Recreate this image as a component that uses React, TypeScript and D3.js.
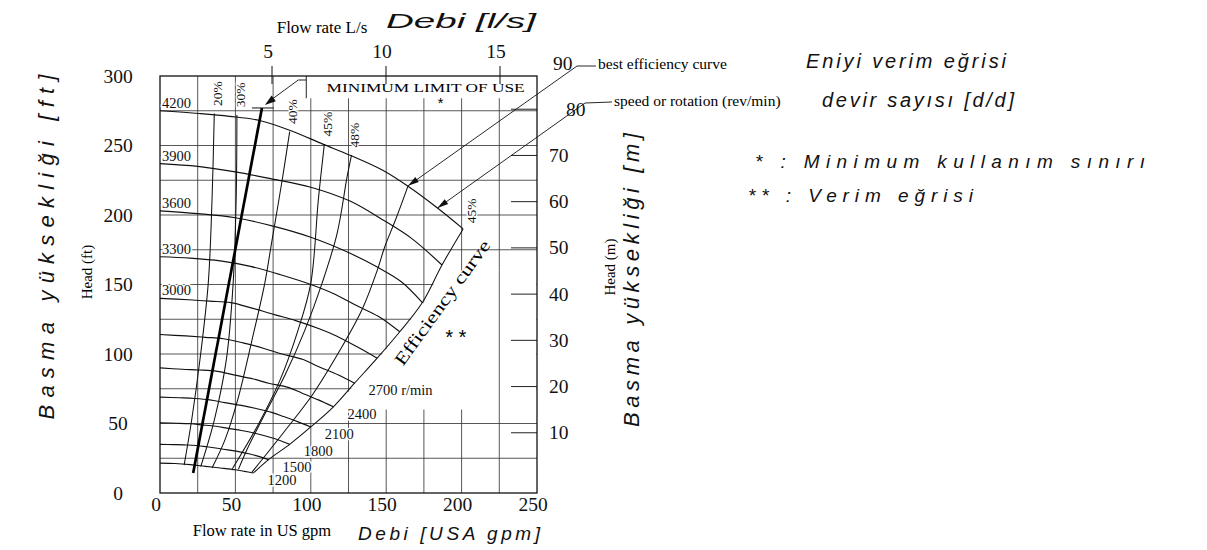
import React from 'react';
import * as d3 from 'd3';

const W = 1207;
const H = 550;

// Head–capacity curves, [flow US gpm, head ft], one per pump speed
const rpm4200 = [[0, 275], [26, 273], [46, 271], [66, 268], [86, 261], [108, 251], [126, 243], [148, 232], [164, 221], [184, 205], [201, 190]];
const rpm3900 = [[0, 237], [25, 235], [50, 231], [74, 226], [100, 220], [126, 210], [147, 197], [167, 183], [187, 164]];
const rpm3600 = [[0, 203], [25, 201], [50, 198], [75, 192], [100, 184], [125, 173], [145, 162], [160, 152], [174, 137]];
const rpm3300 = [[0, 170], [20, 169], [40, 167], [60, 163], [80, 157], [100, 150], [116, 143], [130, 135], [145, 127], [159, 116]];
const rpm3000 = [[0, 140], [19, 139], [33, 138], [47, 137], [61, 133], [77, 128], [90, 124], [106, 118], [117, 113], [131, 105], [144, 97]];
const rpm2700 = [[0, 114], [17, 113], [30, 112], [42, 111], [55, 108], [69, 104], [81, 100], [95, 96], [105, 91], [118, 85], [129, 79]];
const rpm2400 = [[0, 90], [15, 89], [26, 88.5], [38, 87.5], [49, 85], [62, 82], [72, 79], [85, 76], [94, 72], [105, 67], [115, 62]];
const rpm2100 = [[0, 69], [13, 68.5], [23, 68], [33, 67], [43, 65], [54, 63], [63, 61], [74, 58], [82, 55], [92, 51], [100, 47.5]];
const rpm1800 = [[0, 50.5], [11, 50.2], [20, 49.8], [28, 49], [37, 48], [46, 46.3], [54, 45], [63, 43], [70, 41], [79, 38], [86, 35]];
const rpm1500 = [[0, 35], [9, 34.8], [16, 34.6], [24, 34.2], [31, 33.3], [39, 32], [45, 31], [53, 29.6], [59, 28.2], [66, 26.2], [72, 24]];
const rpm1200 = [[0, 21.5], [10, 21.2], [20, 20.4], [30, 19.2], [40, 18], [50, 16.7], [56, 15.6], [62, 14.4]];

const leftSpeedCurves = [rpm4200, rpm3900, rpm3600, rpm3300, rpm3000];
const leftSpeedLabels = ['4200', '3900', '3600', '3300', '3000'];
const rightSpeedCurves = [rpm2700, rpm2400, rpm2100, rpm1800, rpm1500, rpm1200];
const rightSpeedLabels = ['2700 r/min', '2400', '2100', '1800', '1500', '1200'];

// Iso-efficiency lines, [gpm, ft], from the 4200 r/min curve downwards
const eff20 = [[36, 273], [34.5, 211], [32, 151], [26.5, 96], [21, 52.5], [16, 20]];
const eff30 = [[51, 272], [50.5, 211], [48.5, 151], [44, 96], [36, 52.5], [27, 19]];
const eff40 = [[86, 260], [81, 225], [74, 180], [69.5, 151], [61, 110], [51.5, 67], [43, 38], [34.5, 18]];
const eff45 = [[109, 251], [105, 211], [100, 151], [91.5, 117], [79.5, 81], [65, 49], [48, 17.5]];
const eff48 = [[127, 243], [124, 227], [117.5, 187], [107.5, 151], [96, 117], [83, 85], [67.5, 52.5], [58, 32], [52, 17]];
const effLines = [eff20, eff30, eff40, eff45, eff48];
const effLabels = ['20%', '30%', '40%', '45%', '48%'];

// Best efficiency curve and the efficiency (end-of-curve) boundary
const bestEff = [[164.5, 221], [156, 196], [149, 177], [144, 160], [134, 132], [119.5, 103], [101, 70.5], [83, 45], [61, 15]];
const effBoundary = [[201, 190], [187, 164], [174, 137], [159, 116], [144, 97], [129, 79], [115, 62], [100, 47.5], [86, 35], [72, 24], [62, 14.4]];
const boundaryLabel = '45%';

// Minimum limit of use
const minLimit = [[67.6, 277], [22, 14.4]];

// Axis ticks
const gpmTicks = [0, 50, 100, 150, 200, 250];
const ftTicks = [0, 50, 100, 150, 200, 250, 300];
const mTicks = [10, 20, 30, 40, 50, 60, 70, 80, 90];
const lpsTicks = [5, 10, 15];

const x = d3.scaleLinear().domain([0, 250]).range([160, 537]);
const yFt = d3.scaleLinear().domain([0, 300]).range([493, 76]);
const yM = d3.scaleLinear().domain([0, 90]).range([479, 63]);
const xLps = d3.scaleLinear().domain([0, 15]).range([158, 500]);

const serif = "'Liberation Serif', 'Times New Roman', serif";
const hand = "'Liberation Sans', 'DejaVu Sans', sans-serif";

const halo = { paintOrder: 'stroke' as const };

function arrowHead(tx: number, ty: number, fx: number, fy: number, len = 9, half = 2.6) {
  const a = Math.atan2(ty - fy, tx - fx);
  const bx = tx - len * Math.cos(a);
  const by = ty - len * Math.sin(a);
  const px = -Math.sin(a) * half;
  const py = Math.cos(a) * half;
  return `${tx},${ty} ${bx + px},${by + py} ${bx - px},${by - py}`;
}

export default function App() {
  const smooth = d3.line<number[]>().x(d => x(d[0])).y(d => yFt(d[1])).curve(d3.curveCatmullRom.alpha(0.5));
  const straight = d3.line<number[]>().x(d => x(d[0])).y(d => yFt(d[1]));

  const gridGpm = d3.range(25, 250, 25);
  const gridFt = d3.range(25, 300, 25);

  // flow on the boundary for a given head (polylinear lookup)
  const bAsc = [...effBoundary].reverse();
  const boundaryQ = d3.scaleLinear().domain(bAsc.map(d => d[1])).range(bAsc.map(d => d[0]));
  const lowH = 60;
  const highH = 160;
  const blank = [
    [boundaryQ(lowH) + 1, lowH],
    ...bAsc.filter(d => d[1] > lowH && d[1] < highH).map(d => [d[0] + 1, d[1]]),
    [boundaryQ(highH) + 1, highH],
    [249.6, highH],
    [249.6, lowH],
  ];

  const bestTop = bestEff[0];
  const bx0 = x(bestTop[0]);
  const by0 = yFt(bestTop[1]);
  const sp = rpm4200[9];
  const sx0 = x(sp[0]);
  const sy0 = yFt(sp[1]);
  const mlTop = minLimit[0];
  const mx0 = x(mlTop[0]);
  const my0 = yFt(mlTop[1]);

  const boxLeft = x(97);
  const boxBottom = yFt(284);
  const frameTop = yFt(300);
  const frameBottom = yFt(0);

  return (
    <svg width={W} height={H} style={{ position: 'absolute', left: 0, top: 0, background: '#fff' }} fontFamily={serif}>
      <rect x={0} y={0} width={W} height={H} fill="#fff" />

      {/* grid */}
      <g stroke="#3a3a3a" strokeWidth={0.85}>
        {gridGpm.map(g => (
          <line key={'v' + g} x1={x(g)} x2={x(g)} y1={frameTop} y2={frameBottom} />
        ))}
        {gridFt.map(f => (
          <line key={'h' + f} x1={x(0)} x2={x(250)} y1={yFt(f)} y2={yFt(f)} />
        ))}
      </g>

      {/* open area right of the efficiency boundary */}
      <path d={straight(blank as number[][]) + 'Z'} fill="#fff" />
      <line x1={x(225)} x2={x(225)} y1={yFt(highH)} y2={yFt(lowH)} stroke="#3a3a3a" strokeWidth={0.85} />

      {/* minimum limit of use box */}
      <rect x={boxLeft} y={frameTop} width={x(250) - boxLeft} height={boxBottom - frameTop} fill="#fff" />
      <line x1={boxLeft} x2={boxLeft} y1={frameTop} y2={boxBottom} stroke="#222" strokeWidth={1} />
      <text x={(boxLeft + x(250)) / 2 + 4} y={frameTop + 16} fontSize={13} textAnchor="middle" textLength={198} lengthAdjust="spacingAndGlyphs">MINIMUM LIMIT OF USE</text>
      <text x={440} y={108} fontSize={15} fontFamily={hand} fontStyle="italic" textAnchor="middle">*</text>

      {/* m ticks on the right */}
      <g stroke="#222" strokeWidth={1}>
        {mTicks.filter(m => m < 90).map(m => (
          <line key={'mt' + m} x1={x(250) - 26} x2={x(250)} y1={yM(m)} y2={yM(m)} />
        ))}
      </g>

      {/* frame */}
      <rect x={x(0)} y={frameTop} width={x(250) - x(0)} height={frameBottom - frameTop} fill="none" stroke="#111" strokeWidth={1.3} />

      {/* L/s ticks on top */}
      <g stroke="#111" strokeWidth={1}>
        {lpsTicks.map(v => (
          <line key={'lt' + v} x1={xLps(v)} x2={xLps(v)} y1={frameTop - 10} y2={frameTop + 8} />
        ))}
      </g>

      {/* speed curves */}
      <g fill="none" stroke="#111" strokeWidth={1.15}>
        {[...leftSpeedCurves, ...rightSpeedCurves].map((c, i) => (
          <path key={'s' + i} d={smooth(c) as string} />
        ))}
      </g>

      {/* efficiency lines */}
      <g fill="none" stroke="#111" strokeWidth={1.05}>
        {effLines.map((c, i) => (
          <path key={'e' + i} d={smooth(c) as string} />
        ))}
        <path d={smooth(bestEff) as string} />
        <path d={smooth(effBoundary) as string} />
      </g>

      {/* minimum limit of use line */}
      <path d={straight(minLimit) as string} stroke="#000" strokeWidth={2.7} fill="none" />
      <line x1={mx0 - 10} x2={mx0 + 12} y1={my0} y2={my0} stroke="#111" strokeWidth={1} />
      <polyline points={`${mx0 + 5},${my0 - 5} ${boxLeft - 8},${frameTop + 4} ${boxLeft},${frameTop + 4}`} fill="none" stroke="#111" strokeWidth={0.9} />
      <polygon points={arrowHead(mx0 + 3, my0 - 3, boxLeft - 8, frameTop + 4, 11, 3.5)} fill="#111" />

      {/* leaders to the legend notes */}
      <polyline points={`${bx0},${by0} 577,66 596,66`} fill="none" stroke="#111" strokeWidth={0.9} />
      <polygon points={arrowHead(bx0, by0, 577, 66, 11, 3)} fill="#111" />
      <polyline points={`${sx0},${sy0} 585,103 612,102`} fill="none" stroke="#111" strokeWidth={0.9} />
      <polygon points={arrowHead(sx0, sy0, 585, 103, 11, 3)} fill="#111" />

      {/* speed labels */}
      <g fontSize={14.5} stroke="#fff" strokeWidth={3} fill="#111" style={halo}>
        {leftSpeedCurves.map((c, i) => (
          <text key={'ls' + i} x={x(0) + 2} y={yFt(c[0][1]) - 3}>{leftSpeedLabels[i]}</text>
        ))}
        {rightSpeedCurves.map((c, i) => {
          const e = c[c.length - 1];
          return (
            <text key={'rs' + i} x={x(e[0]) + 14} y={yFt(e[1]) + 12}>{rightSpeedLabels[i]}</text>
          );
        })}
      </g>

      {/* efficiency labels */}
      <g fontSize={13.5} fill="#111" stroke="#fff" strokeWidth={2.5} style={halo}>
        {effLines.map((c, i) => {
          const lx = x(c[0][0]) + 3;
          const ly = yFt(c[0][1]) - 20;
          return (
            <text key={'el' + i} x={lx} y={ly} transform={`rotate(-90 ${lx} ${ly})`} textAnchor="middle" dy="0.35em">{effLabels[i]}</text>
          );
        })}
        <text x={x(effBoundary[0][0]) + 8} y={yFt(effBoundary[0][1]) - 18} transform={`rotate(-90 ${x(effBoundary[0][0]) + 8} ${yFt(effBoundary[0][1]) - 18})`} textAnchor="middle" dy="0.35em">{boundaryLabel}</text>
      </g>

      {/* efficiency curve caption */}
      <text x={447} y={306} fontSize={17.5} textAnchor="middle" transform="rotate(-54 447 306)" textLength={150} lengthAdjust="spacingAndGlyphs">Efficiency curve</text>
      <text x={455} y={344} fontSize={20} fontFamily={hand} fontStyle="italic" textAnchor="middle">* *</text>

      {/* bottom axis */}
      <g fontSize={19.5} fill="#111">
        {gpmTicks.map(v => (
          <text key={'bx' + v} x={x(v) - 4} y={511} textAnchor="middle">{v}</text>
        ))}
      </g>
      <text x={262} y={536} fontSize={16.5} textAnchor="middle">Flow rate in US gpm</text>

      {/* top axis */}
      <g fontSize={19.5} fill="#111">
        {lpsTicks.map(v => (
          <text key={'tx' + v} x={xLps(v) - 4} y={58} textAnchor="middle">{v}</text>
        ))}
      </g>
      <text x={322} y={33} fontSize={17} textAnchor="middle">Flow rate L/s</text>

      {/* left axis */}
      <g fontSize={19.5} fill="#111">
        {ftTicks.map(v => (
          <text key={'ly' + v} x={118} y={yFt(v) + 6.5} textAnchor="middle">{v}</text>
        ))}
      </g>
      <text x={87} y={272} fontSize={15} textAnchor="middle" dy="0.35em" transform="rotate(-90 87 272)">Head (ft)</text>

      {/* right axis */}
      <g fontSize={19.5} fill="#111">
        {mTicks.map(v => (
          <text key={'ry' + v} x={v === 90 ? 553 : v === 80 ? 566 : 549} y={yM(v) + 6.5}>{v}</text>
        ))}
      </g>
      <text x={610} y={267} fontSize={15} textAnchor="middle" dy="0.35em" transform="rotate(-90 610 267)">Head (m)</text>

      {/* legend notes */}
      <text x={598} y={69} fontSize={15.5}>best efficiency curve</text>
      <text x={614} y={106} fontSize={15.5}>speed or rotation (rev/min)</text>

      {/* handwritten annotations */}
      <g fontFamily={hand} fontStyle="italic" fill="#111">
        <text x={386} y={28} fontSize={21} textLength={150} lengthAdjust="spacingAndGlyphs">Debi [l/s]</text>
        <text x={806} y={68} fontSize={20} textLength={200} lengthAdjust="spacing">Eniyi verim eğrisi</text>
        <text x={822} y={107} fontSize={20} textLength={192} lengthAdjust="spacing">devir sayısı [d/d]</text>
        <text x={755} y={168} fontSize={19} textLength={390} lengthAdjust="spacing">* : Minimum kullanım sınırı</text>
        <text x={748} y={202} fontSize={19} textLength={225} lengthAdjust="spacing">** : Verim eğrisi</text>
        <text x={358} y={540} fontSize={19} textLength={182} lengthAdjust="spacing">Debi [USA gpm]</text>
        <text x={46} y={247} fontSize={22} textAnchor="middle" dy="0.35em" transform="rotate(-90 46 247)" textLength={345} lengthAdjust="spacing">Basma yüksekliği [ft]</text>
        <text x={631} y={280} fontSize={22} textAnchor="middle" dy="0.35em" transform="rotate(-90 631 280)" textLength={294} lengthAdjust="spacing">Basma yüksekliği [m]</text>
      </g>
    </svg>
  );
}
